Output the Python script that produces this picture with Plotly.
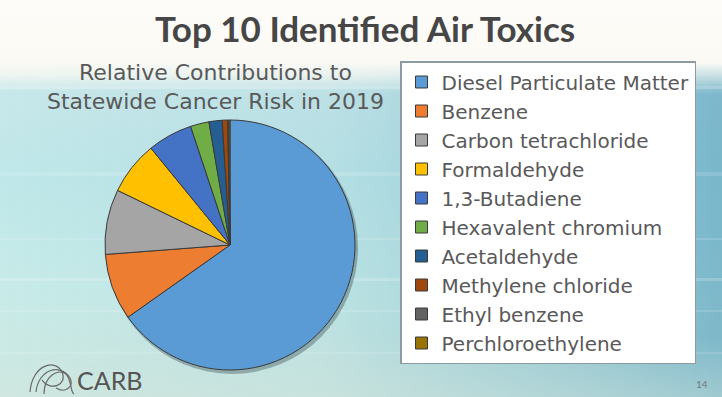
import base64
import plotly.graph_objects as go

# ---- data ----
title_text = "Top 10 Identified Air Toxics"
subtitle_lines = ["Relative Contributions to", "Statewide Cancer Risk in 2019"]
pollutants = [
    "Diesel Particulate Matter",
    "Benzene",
    "Carbon tetrachloride",
    "Formaldehyde",
    "1,3-Butadiene",
    "Hexavalent chromium",
    "Acetaldehyde",
    "Methylene chloride",
    "Ethyl benzene",
    "Perchloroethylene",
]
risk_share = [65.2, 8.6, 8.4, 6.9, 5.8, 2.4, 1.7, 0.7, 0.15, 0.15]
slice_colors = ["#5B9BD5", "#ED7D31", "#A5A5A5", "#FFC000", "#4472C4",
                "#70AD47", "#255E91", "#9E480E", "#636363", "#997300"]
page_number = "14"
org_name = "CARB"

W, H = 722, 397

# ---- background (slide gradient) ----
svg = f'''<svg xmlns="http://www.w3.org/2000/svg" width="{W}" height="{H}" viewBox="0 0 {W} {H}" preserveAspectRatio="none">
<defs>
<linearGradient id="v" x1="0" y1="0" x2="0" y2="1">
<stop offset="0" stop-color="#fdfcf8"/>
<stop offset="0.15" stop-color="#fbfaf5"/>
<stop offset="0.19" stop-color="#eef5f1"/>
<stop offset="0.23" stop-color="#c8e8ea"/>
<stop offset="0.45" stop-color="#bfe7e9"/>
<stop offset="0.75" stop-color="#c8ebe8"/>
<stop offset="1" stop-color="#cfe7e0"/>
</linearGradient>
<linearGradient id="h" x1="0" y1="0" x2="1" y2="0">
<stop offset="0" stop-color="#3f8fb2" stop-opacity="0"/>
<stop offset="0.45" stop-color="#3f8fb2" stop-opacity="0.08"/>
<stop offset="0.8" stop-color="#3f8fb2" stop-opacity="0.35"/>
<stop offset="1" stop-color="#3f8fb2" stop-opacity="0.55"/>
</linearGradient>
<linearGradient id="mg" x1="0" y1="0" x2="0" y2="1">
<stop offset="0" stop-color="#fff" stop-opacity="0"/>
<stop offset="0.16" stop-color="#fff" stop-opacity="0"/>
<stop offset="0.24" stop-color="#fff" stop-opacity="1"/>
<stop offset="0.85" stop-color="#fff" stop-opacity="1"/>
<stop offset="1" stop-color="#fff" stop-opacity="0.6"/>
</linearGradient>
<mask id="m"><rect width="{W}" height="{H}" fill="url(#mg)"/></mask>
</defs>
<rect width="{W}" height="{H}" fill="url(#v)"/>
<rect width="{W}" height="{H}" fill="url(#h)" mask="url(#m)"/>
<g fill="#ffffff" mask="url(#m)">
<rect y="86" width="{W}" height="3" opacity="0.25"/>
<rect y="172" width="{W}" height="4" opacity="0.15"/>
<rect y="238" width="{W}" height="2" opacity="0.15"/>
<rect y="278" width="{W}" height="3" opacity="0.2"/>
<rect y="310" width="{W}" height="2" opacity="0.15"/>
<rect y="352" width="{W}" height="2" opacity="0.15"/>
</g>
</svg>'''
bg_uri = "data:image/svg+xml;base64," + base64.b64encode(svg.encode()).decode()

fig = go.Figure()

# pie geometry in pixels -> paper domain
cx, cy, r = 230, 245, 125
dom_x = [(cx - r) / W, (cx + r) / W]
dom_y = [(H - cy - r) / H, (H - cy + r) / H]

fig.add_trace(go.Pie(
    labels=pollutants,
    values=risk_share,
    sort=False,
    direction="clockwise",
    rotation=0,
    marker=dict(colors=slice_colors, line=dict(color="#3a3a3a", width=1)),
    textinfo="none",
    hoverinfo="label+percent",
    domain=dict(x=dom_x, y=dom_y),
    showlegend=True,
))

fig.update_layout(
    width=W, height=H, autosize=False,
    margin=dict(l=0, r=0, t=0, b=0),
    paper_bgcolor="#cfe9ea",
    plot_bgcolor="rgba(0,0,0,0)",
    images=[dict(source=bg_uri, xref="paper", yref="paper", x=0, y=1,
                 sizex=1, sizey=1, xanchor="left", yanchor="top",
                 sizing="stretch", layer="below")],
    legend=dict(
        x=400 / W, y=(H - 61) / H, xanchor="left", yanchor="top",
        bgcolor="#ffffff", bordercolor="#8c9ba2", borderwidth=1.5,
        font=dict(family="DejaVu Sans", size=20, color="#595959"),
        traceorder="normal",
    ),
    shapes=[
        # soft pie shadow
        dict(type="circle", xref="paper", yref="paper", layer="below",
             x0=(cx - r + 1) / W, x1=(cx + r + 3) / W,
             y0=(H - cy - r - 4) / H, y1=(H - cy + r - 1) / H,
             fillcolor="rgba(40,60,70,0.35)", line=dict(width=0)),
        # CARB logo swirls
        dict(type="path", xref="paper", yref="paper",
             path=(f"M {30/W},{(H-392)/H} C {32/W},{(H-365)/H} {55/W},{(H-358)/H} {62/W},{(H-372)/H} "
                   f"C {68/W},{(H-385)/H} {50/W},{(H-392)/H} {42/W},{(H-380)/H}"),
             line=dict(color="#6a6a6a", width=1.2)),
        dict(type="path", xref="paper", yref="paper",
             path=(f"M {36/W},{(H-392)/H} C {38/W},{(H-370)/H} {60/W},{(H-362)/H} {70/W},{(H-378)/H} "
                   f"C {74/W},{(H-386)/H} {66/W},{(H-394)/H} {56/W},{(H-388)/H}"),
             line=dict(color="#6a6a6a", width=1.2)),
        dict(type="path", xref="paper", yref="paper",
             path=(f"M {44/W},{(H-394)/H} C {44/W},{(H-376)/H} {58/W},{(H-368)/H} {66/W},{(H-374)/H} "
                   f"C {72/W},{(H-380)/H} {70/W},{(H-392)/H} {74/W},{(H-394)/H}"),
             line=dict(color="#6a6a6a", width=1.2)),
    ],
    annotations=[
        dict(text=title_text, xref="paper", yref="paper", x=365 / W, y=(H - 28) / H,
             xanchor="center", yanchor="middle", showarrow=False,
             font=dict(family="Lato", size=35, color="#464646", weight="bold")),
        dict(text="<br>".join(subtitle_lines), xref="paper", yref="paper",
             x=215 / W, y=(H - 87) / H, xanchor="center", yanchor="middle",
             showarrow=False, align="center",
             font=dict(family="DejaVu Sans", size=22, color="#595959")),
        dict(text=org_name, xref="paper", yref="paper", x=75 / W, y=(H - 380) / H,
             xanchor="left", yanchor="middle", showarrow=False,
             font=dict(family="Lato", size=25, color="#555555")),
        dict(text=page_number, xref="paper", yref="paper", x=702 / W, y=(H - 384) / H,
             xanchor="center", yanchor="middle", showarrow=False,
             font=dict(family="Lato", size=10, color="#777777")),
    ],
)

fig.write_html("out.html")
